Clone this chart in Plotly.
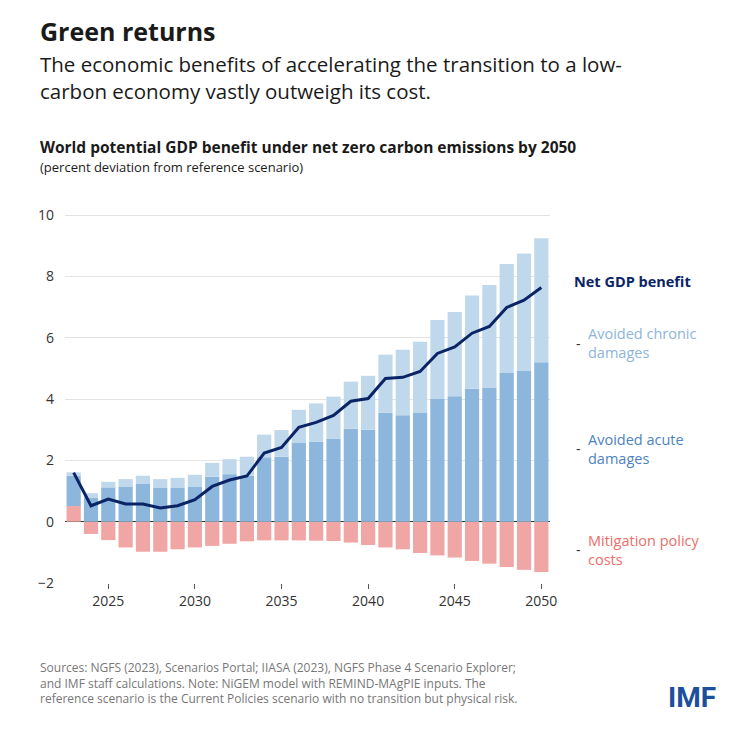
import plotly.graph_objects as go

# ---------------------------------------------------------------------------
# Data
# ---------------------------------------------------------------------------
years = list(range(2023, 2051))
mitigation = [0.51, -0.40, -0.60, -0.84, -0.98, -0.98, -0.90, -0.84, -0.79, -0.72,
              -0.64, -0.61, -0.61, -0.61, -0.62, -0.63, -0.68, -0.76, -0.84, -0.90,
              -1.02, -1.10, -1.17, -1.28, -1.37, -1.48, -1.57, -1.64]
acute_top = [1.50, 0.79, 1.12, 1.15, 1.23, 1.10, 1.10, 1.15, 1.47, 1.55,
             1.50, 2.10, 2.12, 2.58, 2.62, 2.70, 3.03, 3.00, 3.55, 3.47,
             3.55, 4.00, 4.09, 4.34, 4.38, 4.85, 4.93, 5.20]
chronic_top = [1.61, 0.93, 1.30, 1.39, 1.50, 1.39, 1.43, 1.53, 1.92, 2.04,
               2.12, 2.84, 2.99, 3.65, 3.86, 4.08, 4.57, 4.76, 5.45, 5.61,
               5.87, 6.58, 6.84, 7.38, 7.72, 8.41, 8.75, 9.25]
net_gdp = [1.60, 0.52, 0.74, 0.58, 0.58, 0.45, 0.52, 0.72, 1.15, 1.36,
           1.49, 2.24, 2.42, 3.08, 3.24, 3.47, 3.93, 4.02, 4.67, 4.71,
           4.90, 5.49, 5.70, 6.15, 6.37, 6.99, 7.23, 7.64]

acute = [a - max(m, 0) for a, m in zip(acute_top, mitigation)]
chronic = [c - a for c, a in zip(chronic_top, acute_top)]

C = {
    "red": "#f0a6a4",
    "acute": "#8cb6dc",
    "chronic": "#c0d8ec",
    "line": "#0b2466",
    "text": "#1a1a1a",
}
FONT = "Open Sans"

fig = go.Figure()
fig.add_bar(x=years, y=mitigation, marker_color=C["red"], marker_line_width=0)
fig.add_bar(x=years, y=acute, marker_color=C["acute"], marker_line_width=0)
fig.add_bar(x=years, y=chronic, marker_color=C["chronic"], marker_line_width=0)
fig.add_scatter(x=years, y=net_gdp, mode="lines",
                line=dict(color=C["line"], width=3))

fig.update_layout(
    width=750, height=746,
    barmode="relative", bargap=0.18,
    showlegend=False,
    plot_bgcolor="white", paper_bgcolor="white",
    margin=dict(l=57, r=208, t=198, b=171),
    font=dict(family=FONT, color=C["text"]),
)
fig.update_xaxes(
    range=[2022.5, 2050.5], tickvals=[2025, 2030, 2035, 2040, 2045, 2050],
    ticks="outside", ticklen=5, tickcolor="#555", showgrid=False,
    tickfont=dict(size=14, color="#333"), showline=False,
)
fig.update_yaxes(
    range=[-2, 10.3], tickvals=[-2, 0, 2, 4, 6, 8, 10],
    gridcolor="#e3e3e3", zeroline=True, zerolinecolor="#333", zerolinewidth=1,
    tickfont=dict(size=14, color="#333"), ticklabelstandoff=10,
)

# Titles (paper coords extend above the plot area)
texts = [
    (1.515, "<b>Green returns</b>", 25),
    (1.420, "The economic benefits of accelerating the transition to a low-<br>carbon economy vastly outweigh its cost.", 20.5),
    (1.192, "<b>World potential GDP benefit under net zero carbon emissions by 2050</b>", 15.5),
    (1.133, "(percent deviation from reference scenario)", 13),
]
for y, t, s in texts:
    fig.add_annotation(xref="paper", yref="paper", x=0, y=y, xanchor="left",
                       yanchor="top", text=t, showarrow=False, align="left",
                       font=dict(size=s, color=C["text"]), xshift=-27)

# Footnote
fig.add_annotation(
    xref="paper", yref="paper", x=0, y=-0.195, xanchor="left", yanchor="top",
    xshift=-27, showarrow=False, align="left",
    text="Sources: NGFS (2023), Scenarios Portal; IIASA (2023), NGFS Phase 4 Scenario Explorer;<br>"
         "and IMF staff calculations. Note: NiGEM model with REMIND-MAgPIE inputs. The<br>"
         "reference scenario is the Current Policies scenario with no transition but physical risk.",
    font=dict(size=12, color="#777"),
)
fig.add_annotation(
    xref="paper", yref="paper", x=1, y=-0.305, xanchor="right", yanchor="middle",
    xshift=168, showarrow=False, text="<b>IMF</b>",
    font=dict(size=28, color="#1c4f9c", family="Roboto"),
)

# Right-hand series labels
labels = [
    (7.85, "<b>Net GDP benefit</b>", C["line"], False),
    (5.83, "Avoided chronic<br>damages", "#8db5db", True),
    (2.38, "Avoided acute<br>damages", "#4d83c0", True),
    (-0.91, "Mitigation policy<br>costs", "#ec6e6a", True),
]
for y, t, col, dash in labels:
    fig.add_annotation(xref="paper", yref="y", x=1, y=y, xanchor="left",
                       yanchor="middle", text=t, showarrow=False, align="left",
                       xshift=36 if dash else 22, font=dict(size=14.5, color=col))
    if dash:
        fig.add_annotation(xref="paper", yref="y", x=1, y=y, xanchor="left",
                           yanchor="middle", text="-", showarrow=False,
                           xshift=24, font=dict(size=14, color="#333"))

fig.write_html("out.html")
